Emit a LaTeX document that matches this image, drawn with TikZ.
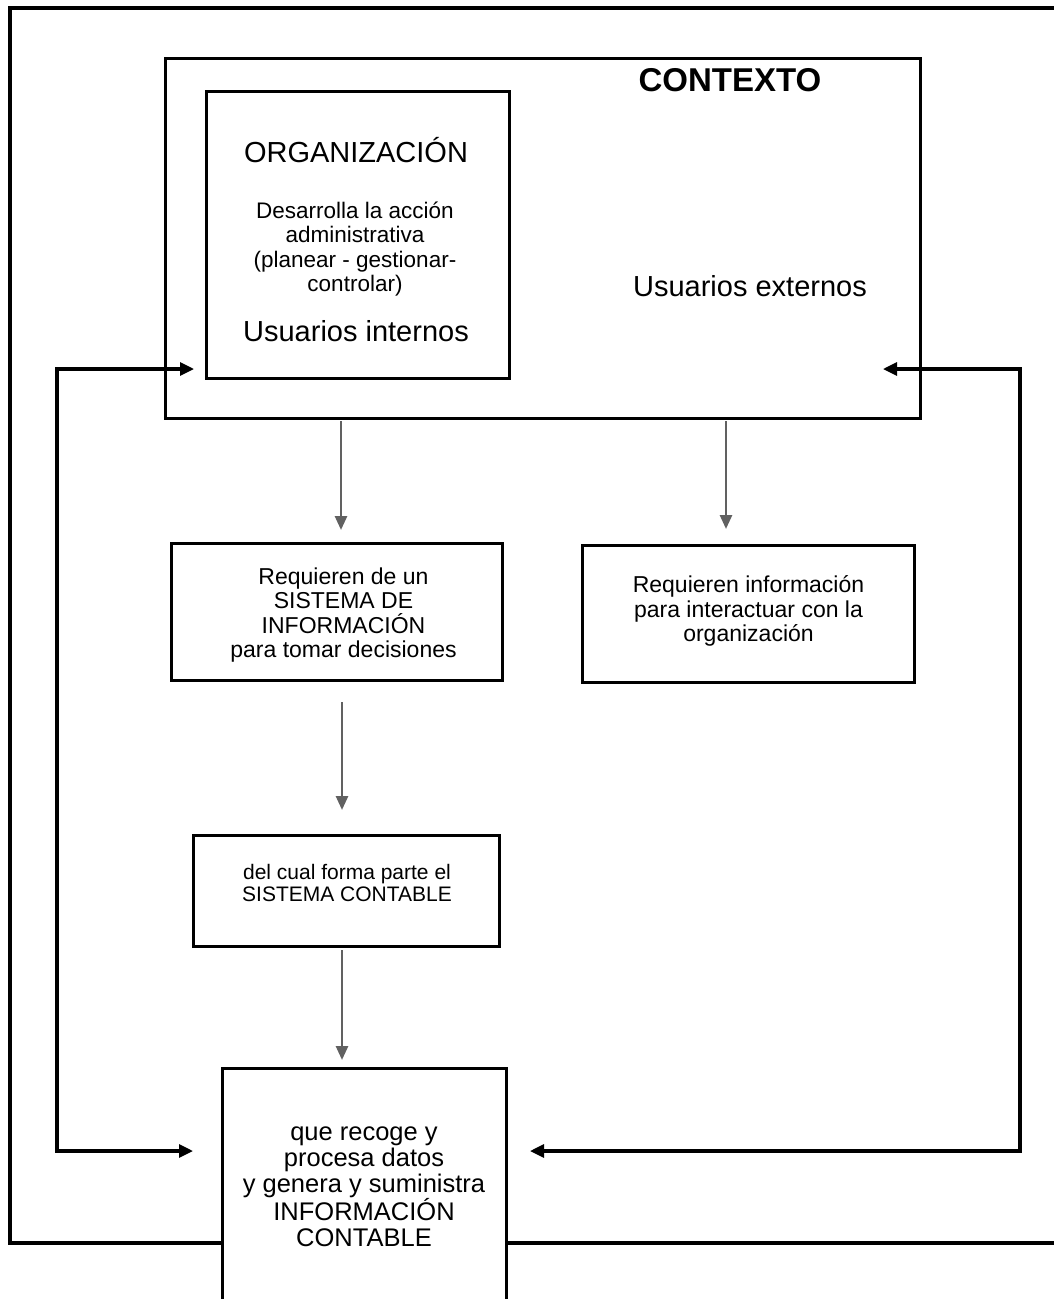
\documentclass[tikz,border=0pt]{standalone}
\usepackage{fontspec}
\setmainfont{Liberation Sans}
\usetikzlibrary{arrows.meta}
\tikzset{
  frameline/.style={line width=4.8pt, line join=miter},
  box/.style={draw, line width=3.0pt, fill=white, inner sep=0pt, outer sep=0pt},
  txt/.style={align=center, inner sep=0pt},
  looparr/.style={line width=3.1pt, {Triangle[length=14pt,width=13pt]}-{Triangle[length=14pt,width=13pt]}},
  downarr/.style={line width=2.7pt, draw=black!62, -{Triangle[length=14pt,width=12pt]}},
}
\begin{document}
\begin{tikzpicture}[x=1pt,y=-1pt]
\useasboundingbox (0,0) rectangle (1054,1299);
\fill[white] (0,0) rectangle (1054,1299);
\clip (0,0) rectangle (1054,1299);
% outer frame (its right side lies beyond the picture)
\draw[frameline] (10,8) rectangle (1090,1243);
% boxes
\node[box, minimum width=755pt, minimum height=360pt] (ctx) at (542.5,238) {};
\node[box, minimum width=303pt, minimum height=287pt] (org) at (357.5,234.5) {};
\node[box, minimum width=331pt, minimum height=137pt] (b2) at (336.5,611.5) {};
\node[box, minimum width=332pt, minimum height=137pt] (b3) at (748,613.5) {};
\node[box, minimum width=306pt, minimum height=111pt] (b4) at (346,890.5) {};
\node[box, minimum width=284pt, minimum height=242pt] (bot) at (364,1189) {};
% texts
\node[txt, font=\fontsize{33}{36}\selectfont\bfseries] (tctx) at (730,80) {CONTEXTO};
\node[txt, font=\fontsize{29}{32}\selectfont] (torg) at (356,150) {ORGANIZACIÓN};
\node[txt, font=\fontsize{22.5}{24.5}\selectfont] (tdes) at (355,249) {Desarrolla la acción\\administrativa\\(planear - gestionar-\\controlar)};
\node[txt, font=\fontsize{29}{32}\selectfont] (tint) at (356,331) {Usuarios internos};
\node[txt, font=\fontsize{29}{32}\selectfont] (text) at (750,286) {Usuarios externos};
\node[txt, font=\fontsize{23}{24.5}\selectfont] (tb2) at (343.5,615) {Requieren de un\\SISTEMA DE\\INFORMACIÓN\\para tomar decisiones};
\node[txt, font=\fontsize{23}{24.5}\selectfont] (tb3) at (748.5,611) {Requieren información\\para interactuar con la\\organización};
\node[txt, font=\fontsize{21}{21.5}\selectfont] (tb4) at (347,883) {del cual forma parte el\\SISTEMA CONTABLE};
\node[txt, font=\fontsize{25.5}{26}\selectfont] (tbot) at (364,1187) {que recoge y\\procesa datos\\y genera y suministra\\INFORMACIÓN\\CONTABLE};
% down arrows
\draw[downarr, shorten <=3pt, shorten >=13pt] ([xshift=4.5pt]b2.north |- ctx.south) -- ([xshift=4.5pt]b2.north);
\draw[downarr, shorten <=3pt, shorten >=16pt] ([xshift=-22pt]b3.north |- ctx.south) -- ([xshift=-22pt]b3.north);
\draw[downarr, shorten <=22pt, shorten >=25pt] ([xshift=5.5pt]b2.south) -- ([xshift=5.5pt]b2.south |- b4.north);
\draw[downarr, shorten <=4pt, shorten >=8pt] ([xshift=-4pt]b4.south) -- ([xshift=-4pt]b4.south |- bot.north);
% feedback loops
\coordinate (L1) at (57,369);
\coordinate (L2) at (57,1151);
\coordinate (R1) at (1020,369);
\coordinate (R2) at (1020,1151);
\coordinate (RT) at (883,369);
\draw[looparr, shorten <=12pt, shorten >=29pt] (org.west |- L1) -- (L1) -- (L2) -- (bot.west |- L2);
\draw[looparr, shorten >=24pt] (RT) -- (R1) -- (R2) -- (bot.east |- R2);
\end{tikzpicture}
\end{document}
